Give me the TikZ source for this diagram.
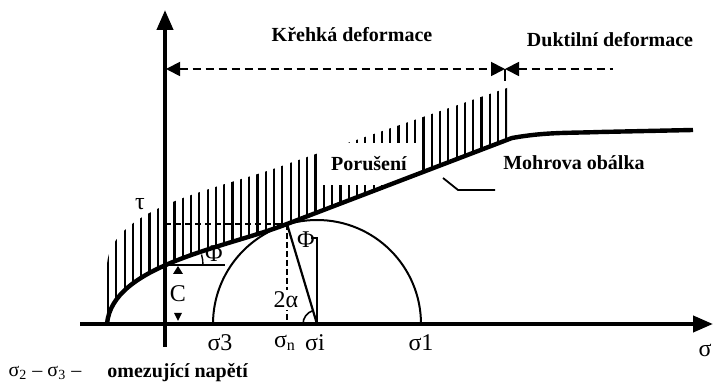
\documentclass[tikz,border=0pt]{standalone}
\usepackage{fontspec}
\setmainfont{Liberation Serif}
\usetikzlibrary{arrows.meta, positioning, calc}

\begin{document}
\begin{tikzpicture}[x=0.5pt, y=0.5pt,
    osa/.style={line width=2pt, -{Triangle[length=10pt,width=8pt]}},
    rozsah/.style={line width=0.9pt, dash pattern=on 4pt off 2.5pt},
    srafa/.style={line width=1.1pt},
    popis/.style={font=\bfseries},
    napeti/.style={font=\large, inner sep=1pt}]
    \useasboundingbox (0,0) rectangle (718,390);

    % Osy
    \coordinate (xs) at (80,66);
    \coordinate (xe) at (713,66);
    \coordinate (ys) at (165,43);
    \coordinate (ye) at (165,380);
    \draw[osa] (xs) -- (xe);
    \draw[osa] (ys) -- (ye);
    \node[napeti] (sig) at (705,40) {σ};

    % Křehká a duktilní oblast
    \coordinate (k1) at (166,321);
    \coordinate (k2) at (505,321);
    \coordinate (k3) at (613,321);
    \draw[rozsah, {Triangle[length=7pt,width=7pt]}-{Triangle[length=7pt,width=7pt]}] (k1) -- (k2);
    \draw[rozsah, {Triangle[length=7pt,width=7pt]}-] (k2) -- (k3);
    \draw[line width=0.8pt] (k2) -- ++(0,-12);
    \node[popis] (krehka) at (352,355) {Křehká deformace};
    \node[popis] (duktil) at (610,350) {Duktilní deformace};

    % Šrafování nad obálkou
    \begin{scope}
        \clip (107,66) .. controls (112,125) and (225,142) .. (287,166) -- (507,250)
              -- (507,302) -- (287,226) .. controls (225,202) and (112,185) .. (107,126) -- cycle;
        \foreach \x in {108,116.3,...,507}
            \draw[srafa] (\x,60) -- (\x,310);
    \end{scope}
    \node[popis, fill=white, minimum width=51pt, minimum height=21pt] (poruseni) at (369,226) {Porušení};

    % Mohrův kruh
    \coordinate (C) at (317,66);
    \coordinate (T) at (287,166);
    \draw[line width=1pt] (213,66) arc[start angle=180, end angle=0, radius=104];

    % Mohrova obálka
    \draw[line width=2.2pt] (107,66) .. controls (112,125) and (225,142) .. (T) -- (512,252)
        to[out=10, in=182] (600,258) -- (693,260);
    \coordinate (m1) at (443,212);
    \draw[line width=0.9pt] (m1) -- ++(15,-12) -- ++(37,0);
    \node[popis] (mohr) at (574,227) {Mohrova obálka};

    % Soudržnost c a úhel Φ
    \coordinate (c0) at (165,125);
    \draw[line width=0.9pt] (c0) -- (225,125);
    \draw[line width=0.7pt] (203,125) arc[start angle=0, end angle=16, radius=38];
    \node[napeti] (fi1) at (214,136) {Φ};
    \fill (173,116) -- (183,116) -- (178,124) -- cycle;
    \fill (174,77) -- (182,77) -- (178,69) -- cycle;
    \node[napeti] (coh) at (178,96) {C};
    \draw[line width=0.7pt, dash pattern=on 3pt off 2pt] (165,166) -- (T);
    \node[napeti] (tau) at (140,186) {τ};

    % Poloměr a úhel 2α
    \draw[line width=0.7pt, dash pattern=on 3pt off 1.5pt] (T) -- (287,66);
    \draw[line width=1.1pt] (T) -- (C);
    \draw[line width=0.9pt] (C) -- (317,152) -- ++(-6,0);
    \node[napeti] (fi2) at (306,150) {Φ};
    \draw[line width=0.8pt] (303,66) arc[start angle=180, end angle=107, radius=14];
    \node[napeti, fill=white] (dva) at (286,90) {2α};

    % Popisy napětí
    \node[napeti] (s3) at (220,47) {σ3};
    \node[napeti] (sn) at (285,47) {σ\textsubscript{n}};
    \node[napeti] (si) at (315,47) {σi};
    \node[napeti] (s1) at (421,47) {σ1};
    \node (omez) at (45,17) {σ\textsubscript{2} – σ\textsubscript{3} –};
    \node[popis, right=6pt of omez] (napjeti) {omezující napětí};
\end{tikzpicture}
\end{document}
